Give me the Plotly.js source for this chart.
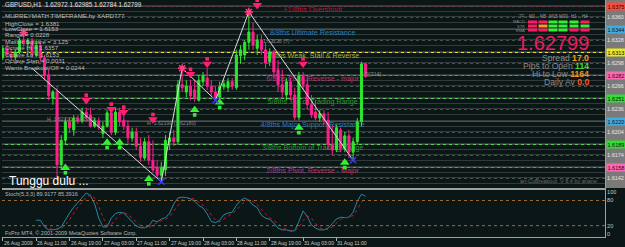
<!DOCTYPE html>
<html><head><meta charset="utf-8">
<script src="https://cdn.plot.ly/plotly-3.0.1.min.js"></script>
<style>html,body{margin:0;padding:0;background:#0b1717;}#chart{width:625px;height:247px;}</style>
</head><body><div id="chart"></div>
<script>
// ---------- DATA ----------
const openP = [1.6306,1.6318,1.6310,1.6306,1.6313,1.6329,1.6324,1.6328,1.6309,1.6322,
1.6305,1.6282,1.6251,1.6259,1.6161,1.6194,1.6219,1.6208,1.6224,1.6220,
1.6232,1.6228,1.6213,1.6220,1.6203,1.6213,1.6231,1.6205,1.6232,1.6221,
1.6213,1.6197,1.6205,1.6186,1.6170,1.6192,1.6167,1.6157,1.6147,1.6154,
1.6192,1.6197,1.6192,1.6269,1.6259,1.6267,1.6262,1.6248,1.6273,1.6278,
1.6267,1.6259,1.6252,1.6266,1.6265,1.6273,1.6265,1.6308,1.6309,1.6326,
1.6340,1.6318,1.6329,1.6316,1.6300,1.6313,1.6289,1.6269,1.6255,1.6273,
1.6255,1.6225,1.6281,1.6269,1.6242,1.6232,1.6224,1.6230,1.6221,1.6188,
1.6181,1.6208,1.6183,1.6200,1.6178,1.6192,1.6219,1.62972];
const highP = [1.6322,1.6324,1.6318,1.6316,1.6332,1.6339,1.6332,1.6332,1.6329,1.6326,
1.6309,1.6289,1.6262,1.6265,1.6201,1.6224,1.6225,1.6228,1.6228,1.6238,
1.6238,1.6238,1.6224,1.6225,1.6219,1.6235,1.6238,1.6238,1.6238,1.6238,
1.6221,1.6211,1.6211,1.6197,1.6197,1.6201,1.6194,1.6167,1.6165,1.6201,
1.6205,1.6208,1.6275,1.6291,1.6275,1.6275,1.6275,1.6282,1.6286,1.6291,
1.6275,1.6267,1.6273,1.6275,1.6278,1.6278,1.6316,1.6322,1.6329,1.6367,
1.6353,1.6336,1.6336,1.6326,1.6318,1.6316,1.6302,1.6289,1.6278,1.6278,
1.6265,1.6286,1.6286,1.6282,1.6255,1.6248,1.6235,1.6235,1.6232,1.6215,
1.6215,1.6211,1.6205,1.6208,1.6197,1.6224,1.6300,1.62985];
const lowP = [1.6302,1.6306,1.6302,1.6302,1.6310,1.6320,1.6308,1.6305,1.6306,1.6300,
1.6275,1.6248,1.6242,1.6143,1.6154,1.6188,1.6205,1.6200,1.6216,1.6217,
1.6219,1.6211,1.6211,1.6208,1.6197,1.6211,1.6201,1.6201,1.6213,1.6208,
1.6190,1.6192,1.6181,1.6165,1.6167,1.6161,1.6151,1.6143,1.6138,1.6146,
1.6181,1.6186,1.6188,1.6259,1.6252,1.6248,1.6246,1.6246,1.6267,1.6262,
1.6254,1.6248,1.6250,1.6262,1.6259,1.6262,1.6262,1.6297,1.6302,1.6316,
1.6316,1.6309,1.6309,1.6291,1.6294,1.6278,1.6259,1.6251,1.6248,1.6248,
1.6221,1.6221,1.6262,1.6235,1.6224,1.6221,1.6219,1.6215,1.6181,1.6174,
1.6178,1.6178,1.6178,1.6170,1.6167,1.6188,1.6213,1.62784];
const closeP = [1.6318,1.6310,1.6306,1.6313,1.6329,1.6324,1.6328,1.6309,1.6322,1.6305,
1.6282,1.6254,1.6259,1.6161,1.6194,1.6219,1.6211,1.6224,1.6220,1.6232,
1.6224,1.6213,1.6220,1.6212,1.6213,1.6231,1.6205,1.6232,1.6219,1.6213,
1.6197,1.6205,1.6186,1.6171,1.6192,1.6167,1.6154,1.6147,1.6157,1.6194,
1.6197,1.6192,1.6269,1.6265,1.6267,1.6254,1.6251,1.6275,1.6281,1.6267,
1.6259,1.6252,1.6266,1.6270,1.6273,1.6267,1.6309,1.6316,1.6326,1.6340,
1.6322,1.6329,1.6316,1.6298,1.6313,1.6286,1.6269,1.6259,1.6273,1.6255,
1.6225,1.6281,1.6269,1.6242,1.6228,1.6224,1.6230,1.6221,1.6188,1.6181,
1.6211,1.6183,1.6200,1.6178,1.6192,1.6219,1.6297,1.62799];

const stochMain = [null,null,null,null,null,null,null,null,
33,33,17,10,10,12,17,35,50,64,
75,88,98,92,72,38,17,17,38,49,
52,50,40,28,19,15,15,19,33,29,
36,39,50,72,86,88,87,84,78,68,
62,48,30,27,33,46,50,52,68,80,
86,80,69,63,45,38,35,26,14,10,
10,7,8,30,55,42,22,14,10,10,
14,25,36,40,39,40,52,78,95,89.92];
const stochSignal = [null,null,null,null,null,null,null,null,null,null,
20,14,11,11,13,22,34,50,65,76,
87,93,86,66,40,22,22,35,47,51,
47,38,28,20,16,16,22,27,32,35,
42,55,70,82,87,86,83,76,69,58,
45,33,29,35,43,49,57,67,78,82,
78,70,58,48,39,33,25,16,11,9,
8,16,32,43,38,25,15,11,11,17,
26,35,39,40,44,58,77,85.39];

const mmLevels = [1.6375,1.6344,1.6313,1.6282,1.6251,1.6220,1.6189,1.6158];
const mmLabels = ["+1/8ths Overshoot","8/8ths Ultimate Resistance","7/8ths Weak, Stall & Reverse",
  "6/8ths Pivot, Reverse - major","5/8ths Top of Trading Range","4/8ths Major Support/Resistance",
  "3/8ths Bottom of Trading Range","2/8ths Pivot, Reverse - Major"];
const mmLineColors = ['#e0204a','#3ea0d0','#f0e020','#ff3c9c','#40e040','#3ea0d0','#40e040','#ff3c9c'];
const mmTextColors = ['#b81838','#2f80b0','#b8b02c','#b8387c','#2e9a2e','#2f80b0','#2e9a2e','#b8387c'];
const mmTagColors  = ['#ff4a3a','#44aadd','#e8e820','#ff66b8','#33dd33','#44aadd','#33dd33','#ff66b8'];

const sellIdx = [20,26,29,36,45,49,61,72];
const sellPrice = [1.6251,1.6239,1.6235,1.6225,1.6286,1.6300,1.6379,1.6300];
const buyIdx = [15,25,28,35,46,52,71,82];
const buyPrice = [1.6154,1.6188,1.6188,1.6139,1.6232,1.6242,1.6208,1.6161];
const zzIdx = [7,38,43,51,59,84];
const zzPrice = [1.6291,1.6138,1.6291,1.6248,1.6367,1.6167];
const starIdx = [5,43,59];
const starPrice = [1.6339,1.6291,1.6367];
const lowMarkIdx = [38,51,84];
const lowMarkPrice = [1.6138,1.6248,1.6167];

const tickIdx = [0,8,16,24,32,40,48,56,64,72,80];
const tickLabels = ["26 Aug 2009","26 Aug 11:00","26 Aug 19:00","27 Aug 03:00","27 Aug 11:00",
  "27 Aug 19:00","28 Aug 03:00","28 Aug 11:00","28 Aug 19:00","31 Aug 03:00","31 Aug 11:00"];

const infoLines = ["MURREYMATH TIMEFRAME by XARD777","HighClose = 1.6381","LowClose = 1.6153","Range = 0.0228",
  "Master Square = 3.125","Octave Hi = 1.6357","Octave Lo = 1.6153","Octave Step = 0.0031","Wants Breakout/Off = 0.0244"];
const tfLabels = ["M1","M5","M15","M30","H1","H4"];
const rowLabels = ["MACD","STR","EMA"];
const cellColors = [
  ['#ff1a66','#ff1a66','#33ee33','#33ee33','#33ee33','#ff1a66'],
  ['#ff1a66','#ff9a20','#33ee33','#33ee33','#33ee33','#33ee33'],
  ['#ff1a66','#ff1a66','#33ee33','#33ee33','#ff1a66','#ff1a66']];

// ---------- LAYOUT HELPERS ----------
const W = 603, H = 237;
const PX = x => (x - 2) / W;
const PY = y => (H - y) / H;
const PRICE_PER_PX = (1.63831 - 1.61297) / 188;
const idx = openP.map((_, i) => i);
const XR = [-0.2, 144.4];
const YR = [1.61297, 1.63831];

const BG = '#0b1717';
const fontFam = 'Liberation Sans, Arial, sans-serif';

const annotations = [];
const shapes = [];
function T(x, y, text, o) {
  o = o || {};
  annotations.push({xref:'paper', yref:'paper', x:PX(x), y:PY(y), text:text, showarrow:false,
    xanchor:o.xa || 'left', yanchor:o.ya || 'middle', borderpad:0,
    font:{family:fontFam, size:o.size || 6.5, color:o.color || '#c8c8c8'}});
}

// info block
T(4, 5, "GBPUSD,H1  1.62972 1.62985 1.62784 1.62799", {color:'#e0e0e0', size:6.3});
const infoY = [16, 23, 29, 35, 42, 48, 54, 60, 67];
infoLines.forEach((s, k) => T(4, infoY[k], s, {color:'#bcbcbc', size:6.2}));

// right info panel
const colX = [532.5, 543, 553, 563, 574, 585];
tfLabels.forEach((s, k) => T(colX[k], 16.5, s, {xa:'center', size:4.5, color:'#9a9a9a'}));
T(522, 16.5, "TF", {xa:'center', size:4.5, color:'#7a7a7a'});
const rowY = [22, 26, 30];
rowLabels.forEach((s, r) => {
  T(526, rowY[r], s, {xa:'right', size:4, color:'#8a8a8a'});
  cellColors[r].forEach((c, k) => {
    shapes.push({type:'rect', xref:'paper', yref:'paper', x0:PX(colX[k]-4.5), x1:PX(colX[k]+4.5),
      y0:PY(rowY[r]+1.5), y1:PY(rowY[r]-1.5), fillcolor:c, line:{width:0}});
  });
});
T(590, 43, "1.62799", {xa:'right', size:20, color:'#ee1a62'});
const statLbl = ["Spread","Pips to Open","Hi to Low","Daily Av"];
const statVal = ["17.0","114","1164","0.0"];
const statCol = ['#ff9a1a','#44dd33','#ff8c1a','#ff5a1a'];
const statY = [58, 66, 74, 82];
statLbl.forEach((s, k) => T(590, statY[k],
  s + ' <b><span style="color:' + statCol[k] + '">' + statVal[k] + '</span></b>',
  {xa:'right', size:8.6, color:'#8a8a8a'}));

// misc chart texts
T(8, 180.5, "Tunggu dulu ...", {size:12, color:'#ffffff'});
T(598, 181, "ari-CuBreakout  V 8.4 by ariane", {xa:'right', size:5.5, color:'#6a6a6a'});
T(46, 119, "H  1.62210 (1.62300)", {size:5.2, color:'#8a8a8a'});
T(146, 123, "H  1.62190 (1.62180)", {size:5.2, color:'#8a8a8a'});
T(262, 41, "1.63230 (?)", {size:5.2, color:'#8a8a8a'});
T(362, 74, "(?)[?14]", {size:5.2, color:'#8a8a8a'});
T(4, 194, "Stoch(5,3,3) 89.9177 85.3916", {size:5.5, color:'#b8b8b8'});
T(4, 233, "FxPro MT4, \u00a9 2001-2009 MetaQuotes Software Corp.", {size:5.5, color:'#b8b8b8'});

// x tick labels
tickIdx.forEach((v, k) => annotations.push({xref:'x2', yref:'paper', x:v, y:PY(242.5), text:tickLabels[k],
  showarrow:false, xanchor:'left', yanchor:'middle', borderpad:0,
  font:{family:fontFam, size:5.1, color:'#c8c8c8'}}));

// MM lines and tags
mmLevels.forEach((lv, k) => {
  shapes.push({type:'line', xref:'paper', yref:'y', x0:0, x1:1, y0:lv, y1:lv, layer:'below',
    line:{color:mmLineColors[k], width:(k === 0 || k === 1 || k === 5) ? 1.2 : 1.8}});
  annotations.push({xref:'paper', yref:'y', x:1, xshift:1, y:lv, text:lv.toFixed(4), showarrow:false,
    xanchor:'left', yanchor:'middle', bgcolor:mmTagColors[k], borderpad:0.5,
    font:{family:fontFam, size:5.5, color:'#101010'}});
});
// right gray price strip
shapes.push({type:'rect', xref:'paper', yref:'paper', x0:1, x1:1 + 21 / W, y0:PY(188), y1:1,
  fillcolor:'#7a7a7a', line:{width:0}, layer:'below'});
// stoch levels
[20, 80].forEach(v => shapes.push({type:'line', xref:'paper', yref:'y2', x0:0, x1:1, y0:v, y1:v,
  line:{color:'#9a6a3a', width:1, dash:'dot'}}));

// arrow parts (head + shaft) offsets in price units
const headOff = 2.2 * PRICE_PER_PX, shaftOff = 2.8 * PRICE_PER_PX;

// ---------- TRACES ----------
const traces = [
  {type:'scatter', mode:'text', x:mmLevels.map(() => 74.3), y:mmLevels.map(l => l - 4.3 * PRICE_PER_PX),
   text:mmLabels, textposition:'middle center', textfont:{family:fontFam, size:7.2, color:mmTextColors},
   xaxis:'x', yaxis:'y', hoverinfo:'skip'},
  {type:'candlestick', x:idx, open:openP, high:highP, low:lowP, close:closeP,
   xaxis:'x', yaxis:'y3', whiskerwidth:0, hoverinfo:'skip',
   increasing:{line:{color:'#2ee62e', width:1}, fillcolor:'#2ee62e'},
   decreasing:{line:{color:'#ff1f8c', width:1}, fillcolor:'#ff1f8c'}},
  {type:'scatter', mode:'lines', x:zzIdx, y:zzPrice, xaxis:'x', yaxis:'y3',
   line:{color:'#dcdcdc', width:1}, hoverinfo:'skip'},
  // sell arrows: shaft above, head below
  {type:'scatter', mode:'markers', x:sellIdx, y:sellPrice.map(p => p + shaftOff), xaxis:'x', yaxis:'y3',
   marker:{symbol:'square', size:3.6, color:'#ff1f6e', line:{width:0}}, hoverinfo:'skip'},
  {type:'scatter', mode:'markers', x:sellIdx, y:sellPrice.map(p => p - headOff), xaxis:'x', yaxis:'y3',
   marker:{symbol:'triangle-down', size:8.5, color:'#ff1f6e', line:{width:0}}, hoverinfo:'skip'},
  // buy arrows: head above, shaft below
  {type:'scatter', mode:'markers', x:buyIdx, y:buyPrice.map(p => p - shaftOff), xaxis:'x', yaxis:'y3',
   marker:{symbol:'square', size:3.6, color:'#33ee33', line:{width:0}}, hoverinfo:'skip'},
  {type:'scatter', mode:'markers', x:buyIdx, y:buyPrice.map(p => p + headOff), xaxis:'x', yaxis:'y3',
   marker:{symbol:'triangle-up', size:8.5, color:'#33ee33', line:{width:0}}, hoverinfo:'skip'},
  {type:'scatter', mode:'markers', x:starIdx, y:starPrice, xaxis:'x', yaxis:'y3',
   marker:{symbol:'asterisk-open', size:7, color:'#ff4080', line:{width:1.5, color:'#ff4080'}}, hoverinfo:'skip'},
  {type:'scatter', mode:'markers', x:lowMarkIdx, y:lowMarkPrice, xaxis:'x', yaxis:'y3',
   marker:{symbol:'x-thin-open', size:6, color:'#3a3aff', line:{width:1.5, color:'#3a3aff'}}, hoverinfo:'skip'},
  {type:'scatter', mode:'lines', x:idx, y:stochMain, xaxis:'x2', yaxis:'y2',
   line:{color:'#2a86a6', width:1}, hoverinfo:'skip'},
  {type:'scatter', mode:'lines', x:idx, y:stochSignal, xaxis:'x2', yaxis:'y2',
   line:{color:'#c81828', width:1, dash:'dot'}, hoverinfo:'skip'}
];

const layout = {
  width:625, height:247, margin:{l:2, r:20, t:0, b:10},
  paper_bgcolor:BG, plot_bgcolor:BG, showlegend:false,
  font:{family:fontFam, size:6, color:'#c8c8c8'},
  xaxis:{range:XR, anchor:'y', showticklabels:false, showgrid:false, zeroline:false,
    showline:true, linecolor:'#a0a0a0', linewidth:2, ticks:'', rangeslider:{visible:false}, fixedrange:true},
  yaxis:{domain:[PY(188), 1], range:YR, side:'right', anchor:'x',
    tick0:1.6158, dtick:0.00155, tickformat:'.4f', showgrid:true, gridcolor:'#4a5050', griddash:'dot', gridwidth:1,
    minor:{dtick:0.000775, showgrid:true, gridcolor:'#323a3a', griddash:'solid'},
    tickfont:{size:5.5, color:'#e8e8e8'}, ticks:'', zeroline:false,
    showline:true, linecolor:'#a0a0a0', linewidth:1, fixedrange:true},
  yaxis3:{overlaying:'y', anchor:'x', range:YR, visible:false, fixedrange:true},
  xaxis2:{range:XR, anchor:'y2', showticklabels:false, showgrid:false, zeroline:false,
    tickvals:tickIdx, ticks:'outside', ticklen:3, tickcolor:'#b0b0b0',
    showline:true, linecolor:'#a0a0a0', linewidth:1, fixedrange:true},
  yaxis2:{domain:[0, PY(190)], range:[-7, 105], side:'right', anchor:'x2',
    tickvals:[0, 20, 80, 100], ticktext:['0', '20', '80', '100'], ticks:'', showgrid:false, zeroline:false,
    tickfont:{size:5.5, color:'#c8c8c8'}, showline:true, linecolor:'#a0a0a0', linewidth:1, fixedrange:true},
  annotations:annotations, shapes:shapes
};

Plotly.newPlot('chart', traces, layout, {staticPlot:true, displayModeBar:false});
</script>
</body></html>
